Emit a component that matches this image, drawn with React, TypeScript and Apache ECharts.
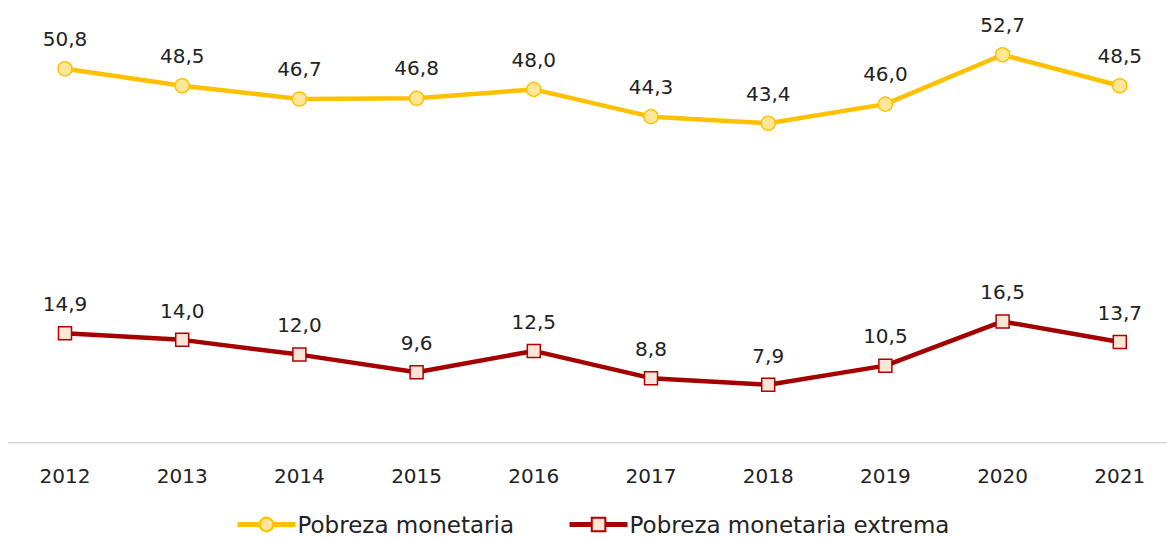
import React, { useEffect, useRef } from "react";
import * as echarts from "echarts";

const years = ["2012", "2013", "2014", "2015", "2016", "2017", "2018", "2019", "2020", "2021"];
const pobreza = [50.8, 48.5, 46.7, 46.8, 48.0, 44.3, 43.4, 46.0, 52.7, 48.5];
const pobrezaExtrema = [14.9, 14.0, 12.0, 9.6, 12.5, 8.8, 7.9, 10.5, 16.5, 13.7];

const FONT = "DejaVu Sans";

export default function App() {
  const ref = useRef<HTMLDivElement>(null);
  useEffect(() => {
    if (!ref.current) return;
    const chart = echarts.init(ref.current, undefined, { renderer: "svg" });
    const fmt = (p: any) => Number(p.value).toFixed(1).replace(".", ",");
    chart.setOption({
      animation: false,
      graphic: [
        { type: "rect", shape: { x: 8, y: 442, width: 1159, height: 1.5 }, style: { fill: "#d9d9d9" }, z: 0 },
      ],
      grid: { left: 6.4, top: 1, width: 1172, height: 442 },
      xAxis: {
        type: "category",
        data: years,
        boundaryGap: true,
        axisLine: { show: false },
        axisTick: { show: false },
        axisLabel: { color: "#222", fontSize: 20, fontFamily: FONT, margin: 23 },
      },
      yAxis: { type: "value", min: 0, max: 60, show: false, splitLine: { show: false } },
      legend: {
        bottom: 3,
        left: 235,
        padding: 0,
        itemWidth: 58,
        itemHeight: 17,
        itemGap: 53,
        textStyle: { color: "#222", fontSize: 23, fontFamily: FONT, padding: [0, 0, 0, -3] },
        data: [
          { name: "Pobreza monetaria", lineStyle: { width: 5 } },
          { name: "Pobreza monetaria extrema", lineStyle: { width: 5 } },
        ],
      },
      series: [
        {
          name: "Pobreza monetaria",
          type: "line",
          data: pobreza,
          symbol: "circle",
          symbolSize: 14,
          lineStyle: { color: "#FFC000", width: 4.5 },
          itemStyle: { color: "#FFE699", borderColor: "#FFC000", borderWidth: 1.5 },
          label: { show: true, position: "top", distance: 12, formatter: fmt, color: "#222", fontSize: 20, fontFamily: FONT },
        },
        {
          name: "Pobreza monetaria extrema",
          type: "line",
          data: pobrezaExtrema,
          symbol: "rect",
          symbolSize: 13,
          lineStyle: { color: "#A50000", width: 4.5 },
          itemStyle: { color: "#FBE5D6", borderColor: "#B00000", borderWidth: 1.5 },
          label: { show: true, position: "top", distance: 12, formatter: fmt, color: "#222", fontSize: 20, fontFamily: FONT },
        },
      ],
    });
    return () => chart.dispose();
  }, []);
  return (
    <div
      ref={ref}
      style={{ position: "fixed", left: 0, top: 0, width: 1185, height: 539, background: "#fff" }}
    />
  );
}
